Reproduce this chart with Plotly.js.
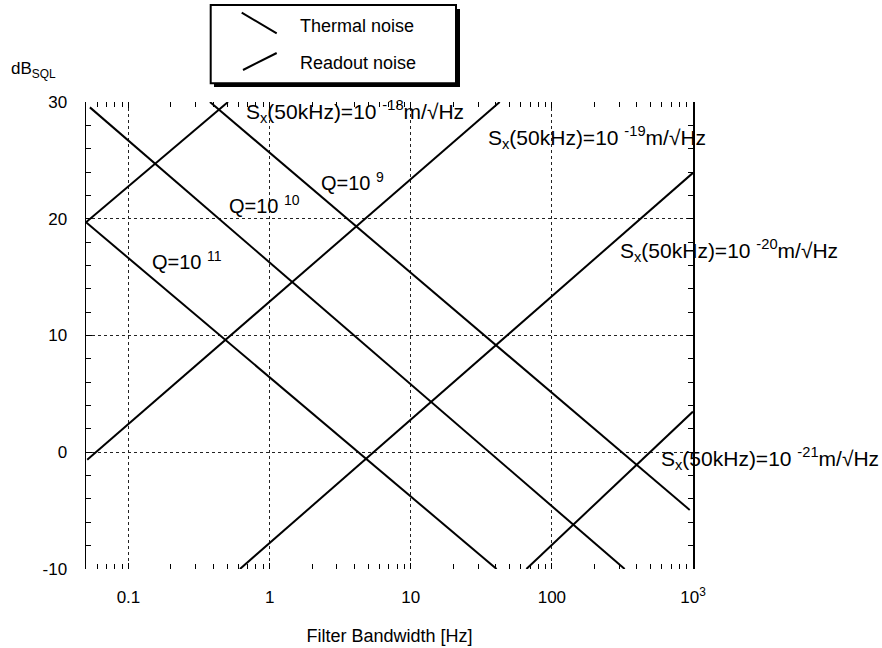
<!DOCTYPE html>
<html>
<head>
<meta charset="utf-8">
<script src="https://cdn.plot.ly/plotly-3.0.1.min.js"></script>
<style>
  html, body { margin: 0; padding: 0; background: #fff; }
  #chart { width: 882px; height: 648px; }
</style>
</head>
<body>
<div id="chart"></div>
<script>
// ---- Data ----
// Thermal noise lines (descending), one per Q value
const thermalQ   = ['9', '10', '11'];
const thermalX0  = [0.378, 0.0533, 0.05];
const thermalY0  = [30, 29.54, 19.7];
const thermalX1  = [948, 328, 40.6];
const thermalY1  = [-4.94, -10, -10];

// Readout noise lines (ascending), one per Sx(50kHz) value
const readoutExp = ['-18', '-19', '-20', '-21'];
const readoutX0  = [0.05, 0.051, 0.616, 66];
const readoutY0  = [19.7, -0.65, -10, -10];
const readoutX1  = [0.507, 42.7, 1000, 1000];
const readoutY1  = [30, 30, 23.93, 3.49];

// Axes
const xRange     = [0.05, 1000];
const yRange     = [-10, 30];
const xTickVals  = [0.1, 1, 10, 100, 1000];
const xTickText  = ['0.1', '1', '10', '100', '10<sup>3</sup>'];
const yTickVals  = [-10, 0, 10, 20, 30];
const yTickText  = ['-10', '0', '10', '20', '30'];

// ---- Layout geometry (pixels) ----
const W = 882, H = 648;
const L = 86, R = 693, T = 102, B = 569;
const px = x => (x - L) / (R - L);
const py = y => (B - y) / (B - T);

const FONT = 'Liberation Sans, Arial, Helvetica, sans-serif';

// minor ticks on log x axis (2..9 in each decade)
const xMinor = [];
for (let e = -2; e <= 2; e++) {
  for (let m = 2; m <= 9; m++) {
    const v = m * Math.pow(10, e);
    if (v > xRange[0] * 1.0001 && v < xRange[1]) xMinor.push(v);
  }
}

const traces = [];
thermalQ.forEach((q, i) => {
  traces.push({
    x: [thermalX0[i], thermalX1[i]],
    y: [thermalY0[i], thermalY1[i]],
    mode: 'lines', type: 'scatter',
    name: 'Thermal noise Q=1e' + q,
    line: { color: '#000', width: 2 },
    showlegend: false, hoverinfo: 'skip'
  });
});
readoutExp.forEach((e, i) => {
  traces.push({
    x: [readoutX0[i], readoutX1[i]],
    y: [readoutY0[i], readoutY1[i]],
    mode: 'lines', type: 'scatter',
    name: 'Readout noise Sx=1e' + e,
    line: { color: '#000', width: 2 },
    showlegend: false, hoverinfo: 'skip'
  });
});

// Label positions (pixel: left x, text centre y)
const qPos = [[318.7, 181.5], [227, 204], [150.3, 260]];
const sPos = [[244, 111], [486.3, 137], [617.7, 250.5], [659.3, 458.5]];

const annotations = [];
thermalQ.forEach((q, i) => {
  annotations.push({
    xref: 'paper', yref: 'paper', x: px(qPos[i][0]), y: py(qPos[i][1]),
    xanchor: 'left', yanchor: 'middle', showarrow: false,
    text: 'Q=10 <sup>' + q + '</sup>',
    font: { family: FONT, size: 20, color: '#000' }
  });
});
readoutExp.forEach((e, i) => {
  annotations.push({
    xref: 'paper', yref: 'paper', x: px(sPos[i][0]), y: py(sPos[i][1]),
    xanchor: 'left', yanchor: 'middle', showarrow: false,
    text: 'S<sub>x</sub>(50kHz)=10 <sup>' + e + '</sup>m/√Hz',
    font: { family: FONT, size: 21, color: '#000' }
  });
});
// y-axis label at top left
annotations.push({
  xref: 'paper', yref: 'paper', x: px(8.5), y: py(70),
  xanchor: 'left', yanchor: 'middle', showarrow: false,
  text: 'dB<sub>SQL</sub>',
  font: { family: FONT, size: 17, color: '#000' }
});
// legend texts
annotations.push({
  xref: 'paper', yref: 'paper', x: px(298), y: py(26),
  xanchor: 'left', yanchor: 'middle', showarrow: false,
  text: 'Thermal noise', font: { family: FONT, size: 18, color: '#000' }
});
annotations.push({
  xref: 'paper', yref: 'paper', x: px(298), y: py(63),
  xanchor: 'left', yanchor: 'middle', showarrow: false,
  text: 'Readout noise', font: { family: FONT, size: 18, color: '#000' }
});

const shapes = [
  // legend shadow
  { type: 'rect', xref: 'paper', yref: 'paper',
    x0: px(214), x1: px(460), y0: py(87), y1: py(9),
    fillcolor: '#000', line: { width: 0 } },
  // legend box
  { type: 'rect', xref: 'paper', yref: 'paper',
    x0: px(210.7), x1: px(456), y0: py(83.3), y1: py(5),
    fillcolor: '#fff', line: { color: '#000', width: 2 } },
  // legend symbols
  { type: 'line', xref: 'paper', yref: 'paper',
    x0: px(241.7), y0: py(12.7), x1: px(276.7), y1: py(33.3),
    line: { color: '#000', width: 2 } },
  { type: 'line', xref: 'paper', yref: 'paper',
    x0: px(243), y0: py(70), x1: px(276.7), y1: py(53),
    line: { color: '#000', width: 2 } }
];

const layout = {
  width: W, height: H,
  margin: { l: L, r: W - R, t: T, b: H - B, pad: 0 },
  paper_bgcolor: '#fff', plot_bgcolor: '#fff',
  font: { family: FONT, size: 17, color: '#000' },
  showlegend: false,
  xaxis: {
    type: 'log',
    range: [Math.log10(xRange[0]), Math.log10(xRange[1])],
    tickmode: 'array', tickvals: xTickVals, ticktext: xTickText,
    ticks: 'inside', ticklen: 6, tickwidth: 1, tickcolor: '#000',
    mirror: 'allticks', showline: false,
    showgrid: true, gridcolor: '#222', gridwidth: 1, griddash: '3px,3px',
    zeroline: false,
    ticklabelstandoff: 16,
    tickfont: { family: FONT, size: 17, color: '#000' },
    minor: { tickmode: 'array', tickvals: xMinor, ticks: 'inside', ticklen: 5,
             tickwidth: 1, tickcolor: '#000', showgrid: false },
    title: { text: 'Filter Bandwidth [Hz]', standoff: 23,
             font: { family: FONT, size: 18, color: '#000' } }
  },
  yaxis: {
    range: yRange,
    tickmode: 'array', tickvals: yTickVals, ticktext: yTickText,
    ticks: 'inside', ticklen: 6, tickwidth: 1, tickcolor: '#000',
    mirror: 'allticks', showline: true, linecolor: '#000', linewidth: 1.5,
    showgrid: true, gridcolor: '#222', gridwidth: 1, griddash: '3px,3px',
    zeroline: false,
    ticklabelstandoff: 14,
    tickfont: { family: FONT, size: 17, color: '#000' },
    minor: { dtick: 2, ticks: 'inside', ticklen: 5, tickwidth: 1,
             tickcolor: '#000', showgrid: false }
  },
  annotations: annotations,
  shapes: shapes
};

Plotly.newPlot('chart', traces, layout, { staticPlot: true, displayModeBar: false });
</script>
</body>
</html>
